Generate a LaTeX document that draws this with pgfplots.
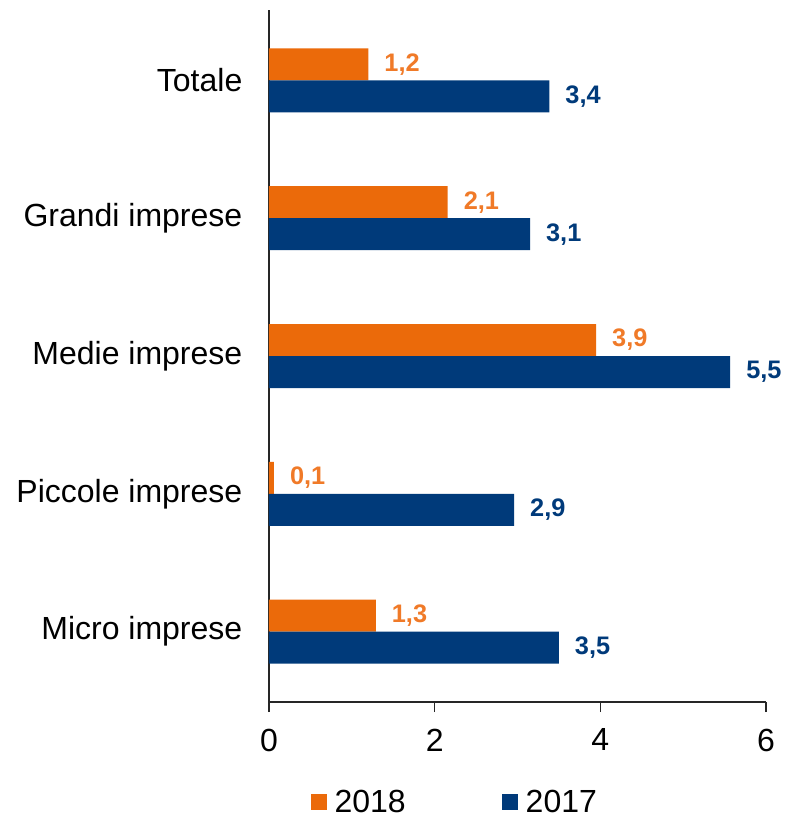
\documentclass[border=0pt]{standalone}
\usepackage{pgfplots}
\pgfplotsset{compat=1.18}
\usepackage{fontspec}
\setmainfont{Liberation Sans}
\definecolor{cOrange}{HTML}{EB6A0A}
\definecolor{cOrangeTxt}{HTML}{F07A28}
\definecolor{cBlue}{HTML}{003A7A}
\begin{document}
\begin{tikzpicture}
\useasboundingbox (-201.75pt,-87.75pt) rectangle (388.5pt,526.5pt);
\begin{axis}[
  at={(0,0)}, anchor=south west,
  scale only axis, width=372.75pt, height=519pt,
  xbar, bar width=24pt,
  xmin=0, xmax=6, ymin=-0.51, ymax=4.51,
  xtick={0,2,4,6},
  ytick={0,1,2,3,4},
  yticklabels={Micro imprese,Piccole imprese,Medie imprese,Grandi imprese,Totale},
  axis x line*=bottom, axis y line*=left,
  axis line style={line width=1pt, black!85},
  x axis line style={-}, y axis line style={-},
  tick align=outside, major tick length=7.5pt,
  xtick style={line width=1pt, black!85},
  ytick style={draw=none},
  /pgf/number format/assume math mode=true,
  tick label style={font=\fontsize{24}{28}\selectfont},
  xticklabel style={yshift=-9pt},
  yticklabel style={xshift=-9pt},
  point meta=explicit,
  nodes near coords,
  nodes near coords align=horizontal,
  every node near coord/.append style={font=\bfseries\fontsize{19}{21}\selectfont, anchor=west, xshift=8.5pt,
     /pgf/number format/fixed, /pgf/number format/fixed zerofill, /pgf/number format/precision=1,
     /pgf/number format/use comma, /pgf/number format/assume math mode=true},
  legend columns=2,
  legend style={at={(0.075,-0.145)}, anchor=west, draw=none, fill=none,
     font=\fontsize{24}{28}\selectfont, /tikz/every even column/.append style={column sep=70pt}},
  legend image code/.code={\fill[#1] (0pt,-6pt) rectangle (12pt,6pt); \path (16pt,0pt);},
]
\addplot[fill=cOrange, draw=none, bar shift=12pt, every node near coord/.append style={text=cOrangeTxt}]
  coordinates {(1.29,0) [1.3] (0.06,1) [0.1] (3.95,2) [3.9] (2.158,3) [2.1] (1.20,4) [1.2]};
\addplot[fill=cBlue, draw=none, bar shift=-12pt, every node near coord/.append style={text=cBlue}]
  coordinates {(3.50,0) [3.5] (2.96,1) [2.9] (5.568,2) [5.5] (3.152,3) [3.1] (3.385,4) [3.4]};
\legend{2018,2017}
\end{axis}
\end{tikzpicture}
\end{document}
